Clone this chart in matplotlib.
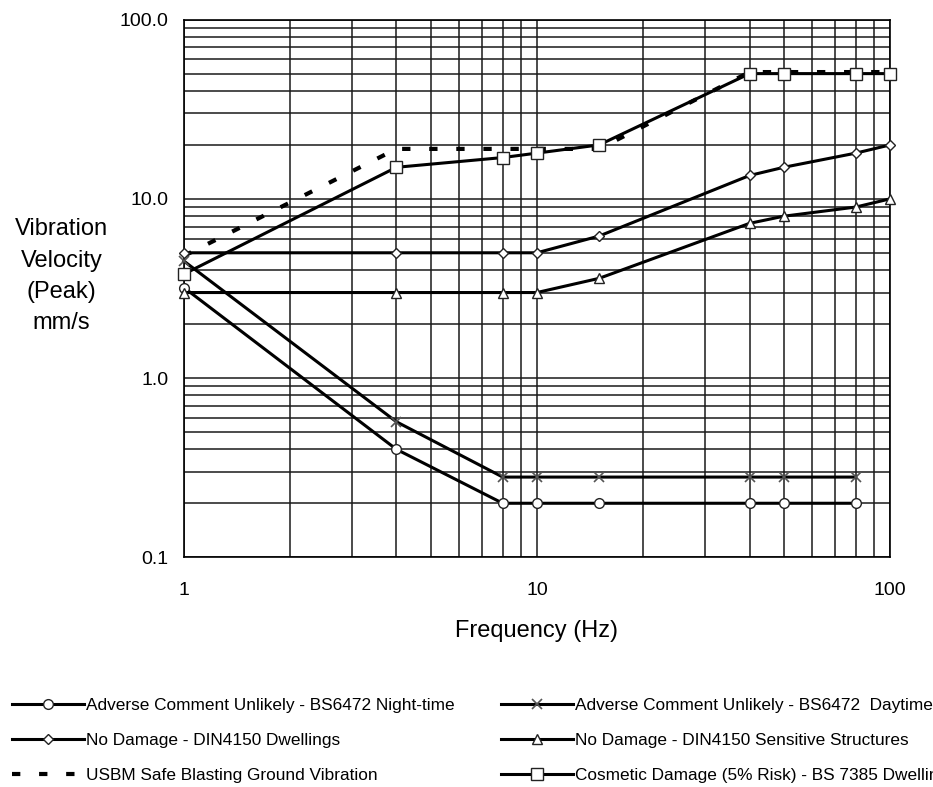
import matplotlib
matplotlib.use('Agg')
import matplotlib.pyplot as plt
from matplotlib.ticker import FixedLocator, FixedFormatter, NullFormatter

plt.rcParams['font.family'] = ['Liberation Sans', 'DejaVu Sans']

# data (frequency in Hz, peak velocity in mm/s)
f_night = [1, 4, 8, 10, 15, 40, 50, 80]
v_night = [3.2, 0.4, 0.2, 0.2, 0.2, 0.2, 0.2, 0.2]

f_day = [1, 4, 8, 10, 15, 40, 50, 80]
v_day = [4.5, 0.57, 0.28, 0.28, 0.28, 0.28, 0.28, 0.28]

f_dwell = [1, 4, 8, 10, 15, 40, 50, 80, 100]
v_dwell = [5, 5, 5, 5, 6.2, 13.5, 15, 18, 20]

f_sens = [1, 4, 8, 10, 15, 40, 50, 80, 100]
v_sens = [3, 3, 3, 3, 3.6, 7.3, 8, 9, 10]

f_usbm = [1, 4, 8, 10, 15, 40, 50, 80, 100]
v_usbm = [4.8, 19, 19, 19, 19, 51, 51, 51, 51]

f_cosm = [1, 4, 8, 10, 15, 40, 50, 80, 100]
v_cosm = [3.8, 15, 17, 18, 20, 50, 50, 50, 50]

labels = ['Adverse Comment Unlikely - BS6472 Night-time',
          'Adverse Comment Unlikely - BS6472  Daytime',
          'No Damage - DIN4150 Dwellings',
          'No Damage - DIN4150 Sensitive Structures',
          'USBM Safe Blasting Ground Vibration',
          'Cosmetic Damage (5% Risk) - BS 7385 Dwellings']

fig = plt.figure(figsize=(9.33, 7.87), dpi=100)
ax = fig.add_axes([0.197, 0.292, 0.757, 0.683])

lw = 2.2
mk = dict(markerfacecolor='white', markeredgecolor='#222222', markeredgewidth=1.0)

l_usbm, = ax.plot(f_usbm, v_usbm, color='black', lw=3, ls=(0, (2.0, 4.5)),
                  dash_capstyle='butt', label=labels[4], zorder=3)
l_night, = ax.plot(f_night, v_night, color='black', lw=lw, marker='o', ms=7, label=labels[0], zorder=4, **mk)
l_day, = ax.plot(f_day, v_day, color='black', lw=lw, marker='x', ms=7.5, label=labels[1], zorder=4,
                 markeredgecolor='#555555', markeredgewidth=1.2)
l_dwell, = ax.plot(f_dwell, v_dwell, color='black', lw=lw, marker='D', ms=5.5, label=labels[2], zorder=4, **mk)
l_sens, = ax.plot(f_sens, v_sens, color='black', lw=lw, marker='^', ms=7.5, label=labels[3], zorder=4, **mk)
l_cosm, = ax.plot(f_cosm, v_cosm, color='black', lw=lw, marker='s', ms=8.5, label=labels[5], zorder=5, **mk)
for ln in [l_usbm, l_night, l_day, l_dwell, l_sens, l_cosm]:
    ln.set_clip_on(False)

ax.set_xscale('log')
ax.set_yscale('log')
ax.set_xlim(1, 100)
ax.set_ylim(0.1, 100)

ax.xaxis.set_major_locator(FixedLocator([1, 10, 100]))
ax.xaxis.set_major_formatter(FixedFormatter(['1', '10', '100']))
ax.xaxis.set_minor_formatter(NullFormatter())
ax.yaxis.set_major_locator(FixedLocator([0.1, 1, 10, 100]))
ax.yaxis.set_major_formatter(FixedFormatter(['0.1', '1.0', '10.0', '100.0']))
ax.yaxis.set_minor_formatter(NullFormatter())

ax.grid(True, which='both', color='#1a1a1a', lw=1.1)
ax.set_axisbelow(True)
ax.tick_params(which='both', length=0, labelsize=14)
ax.tick_params(axis='x', pad=18)
ax.tick_params(axis='y', pad=11)
for s in ax.spines.values():
    s.set_linewidth(1.2)

ax.set_xlabel('Frequency (Hz)', fontsize=17, labelpad=15)
fig.text(0.066, 0.649, 'Vibration\nVelocity\n(Peak)\nmm/s', fontsize=17, ha='center', va='center',
         linespacing=1.55)

leg_kw = dict(frameon=False, fontsize=12.4, handlelength=4.2, handletextpad=0.1,
              labelspacing=1.15, numpoints=1, borderpad=0, borderaxespad=0)
fig.legend([l_night, l_dwell, l_usbm], [labels[0], labels[2], labels[4]],
           loc='upper left', bbox_to_anchor=(0.013, 0.113), **leg_kw)
fig.legend([l_day, l_sens, l_cosm], [labels[1], labels[3], labels[5]],
           loc='upper left', bbox_to_anchor=(0.537, 0.113), **leg_kw)

fig.savefig('out.png', dpi=100)
